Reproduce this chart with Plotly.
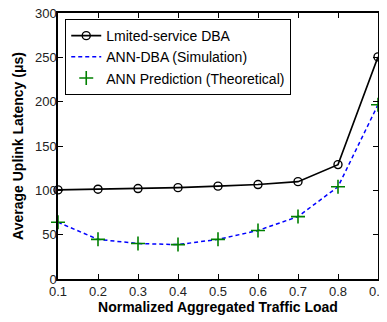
import plotly.graph_objects as go

load = [0.1, 0.2, 0.3, 0.4, 0.5, 0.6, 0.7, 0.8, 0.9]
limited_dba = [100.5, 101.3, 102.0, 103.0, 104.7, 106.5, 109.8, 129.0, 250.5]
ann_dba_sim = [64.0, 44.7, 40.0, 38.8, 44.7, 54.7, 70.4, 104.0, 196.6]
ann_pred = [64.0, 44.7, 40.0, 38.8, 44.7, 54.7, 70.4, 104.0, 196.6]

x_ticks = [0.1, 0.2, 0.3, 0.4, 0.5, 0.6, 0.7, 0.8, 0.9]
x_tick_labels = ["0.1", "0.2", "0.3", "0.4", "0.5", "0.6", "0.7", "0.8", "0.9"]
y_ticks = [0, 50, 100, 150, 200, 250, 300]

FONT = "Liberation Sans, Arial, sans-serif"

fig = go.Figure()
fig.add_trace(go.Scatter(
    x=load, y=limited_dba, name="Lmited-service DBA",
    mode="lines+markers", cliponaxis=False,
    line=dict(color="black", width=1.6),
    marker=dict(symbol="circle-open", size=8, color="black", line=dict(width=1.4)),
))
fig.add_trace(go.Scatter(
    x=load, y=ann_dba_sim, name="ANN-DBA (Simulation)",
    mode="lines", cliponaxis=False,
    line=dict(color="#0000ff", width=1.5, dash="4px,3px"),
))
fig.add_trace(go.Scatter(
    x=load, y=ann_pred, name="ANN Prediction (Theoretical)",
    mode="markers", cliponaxis=False,
    marker=dict(symbol="cross-thin-open", size=10, color="#008000", line=dict(width=1.6, color="#008000")),
))

axis_common = dict(
    showline=True, linecolor="black", linewidth=1.5, mirror="ticks",
    ticks="inside", ticklen=5, tickwidth=1, tickcolor="black",
    showgrid=False, zeroline=False, automargin=False,
    ticklabeloverflow="allow",
    tickfont=dict(family=FONT, size=13, color="#222222"),
)

fig.update_xaxes(
    range=[0.1, 0.9], tickvals=x_ticks, ticktext=x_tick_labels,
    title=dict(text="<b>Normalized Aggregated Traffic Load</b>", font=dict(family=FONT, size=14, color="black"), standoff=2),
    **axis_common,
)
fig.update_yaxes(
    range=[0, 300], tickvals=y_ticks,
    title=dict(text="<b>Average Uplink Latency (μs)</b>", font=dict(family=FONT, size=14, color="black"), standoff=8),
    ticklabelstandoff=-3,
    **axis_common,
)

# The page body adds an 8px margin, so the figure is sized to fit the window
fig.update_layout(
    width=379, height=314,
    margin=dict(l=50, r=8.5, t=5, b=43),
    paper_bgcolor="white", plot_bgcolor="white",
    showlegend=True,
    legend=dict(
        x=0.022, y=0.978, xanchor="left", yanchor="top",
        bgcolor="white", bordercolor="black", borderwidth=1.2,
        font=dict(family=FONT, size=14, color="black"),
        itemwidth=30, tracegroupgap=0,
    ),
)

fig.write_html("out.html")
